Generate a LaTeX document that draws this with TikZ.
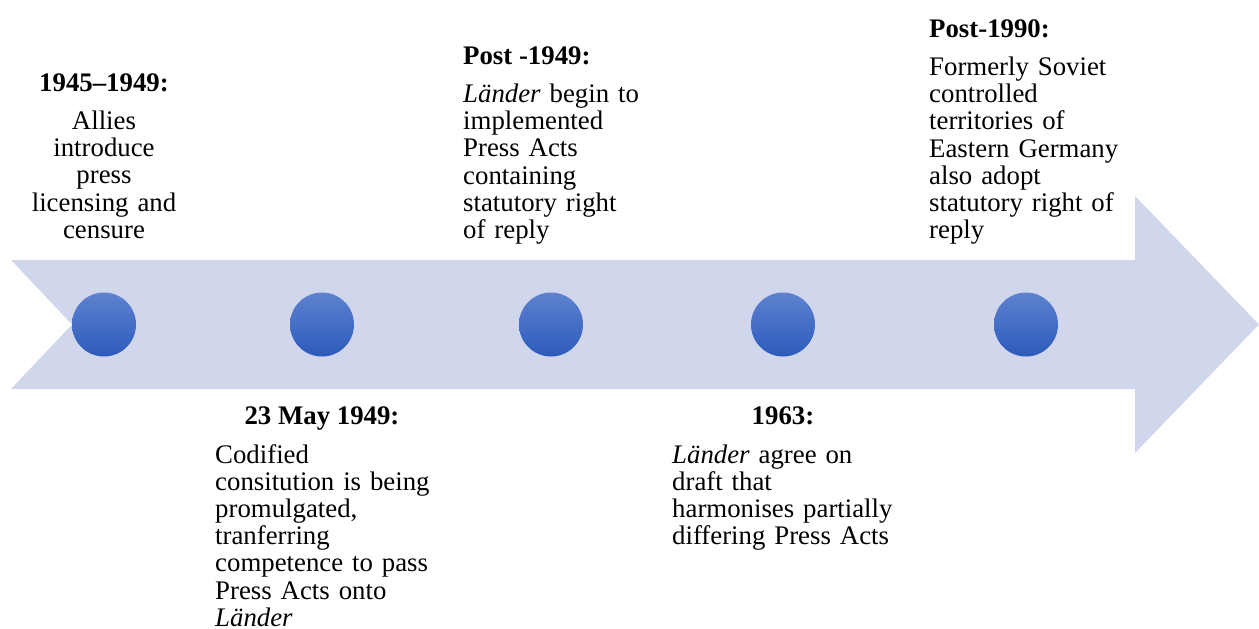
\documentclass[tikz,border=0pt]{standalone}
\usepackage{fontspec}
\setmainfont{Liberation Serif}
\definecolor{arrowfill}{RGB}{208,214,235}
\definecolor{dottop}{RGB}{94,130,207}
\definecolor{dotbot}{RGB}{44,90,188}
% body text: slightly tighter word spacing
\newcommand\tlbodyfont{\fontsize{26.8}{27.2}\selectfont
  \spaceskip=5.9pt plus 2.7pt minus 1.3pt\relax}
\tikzset{
  dot/.style={circle, minimum size=64pt, inner sep=0pt, draw=none,
    top color=dottop, bottom color=dotbot},
  head/.style={inner sep=0pt, font=\fontsize{26.8}{27.2}\selectfont\bfseries},
  body/.style={inner sep=0pt, text width=260pt, align=left, font=\tlbodyfont},
  bodyc/.style={inner sep=0pt, text width=200pt, align=center, font=\tlbodyfont},
}
\begin{document}
\begin{tikzpicture}[x=1pt,y=-1pt]
\useasboundingbox (0,0) rectangle (1259,629);
% timeline arrow with notched tail
\fill[arrowfill] (11,260) -- (1135,260) -- (1135,196) -- (1259,324.5)
  -- (1135,453) -- (1135,389) -- (11,389) -- (72,324.5) -- cycle;
% event markers
\node[dot] (d1) at (104,324.5) {};
\node[dot] (d2) at (322,324.5) {};
\node[dot] (d3) at (551,324.5) {};
\node[dot] (d4) at (783,324.5) {};
\node[dot] (d5) at (1026,324.5) {};
% 1945-1949
\node[head, anchor=base] (h1) at (104,91) {1945–1949:};
\node[bodyc, anchor=base] (t1) at (104,129.5)
  {Allies\\introduce\\press\\licensing and\\censure};
% 23 May 1949
\node[head, anchor=base] (h2) at (322,424) {23 May 1949:};
\node[body, anchor=base west] (t2) at (215,463)
  {Codified\\consitution is being\\promulgated,\\tranferring\\competence to pass\\Press Acts onto\\\textit{Länder}};
% Post-1949
\node[head, anchor=base west] (h3) at (463,64) {Post -1949:};
\node[body, anchor=base west] (t3) at (463,102.5)
  {\textit{Länder} begin to\\implemented\\Press Acts\\containing\\statutory right\\of reply};
% 1963
\node[head, anchor=base] (h4) at (783,424) {1963:};
\node[body, anchor=base west] (t4) at (672,463)
  {\textit{Länder} agree on\\draft that\\harmonises partially\\differing Press Acts};
% Post-1990
\node[head, anchor=base west] (h5) at (929,37) {Post-1990:};
\node[body, anchor=base west] (t5) at (929,75.5)
  {Formerly Soviet\\controlled\\territories of\\Eastern Germany\\also adopt\\statutory right of\\reply};
\end{tikzpicture}
\end{document}
